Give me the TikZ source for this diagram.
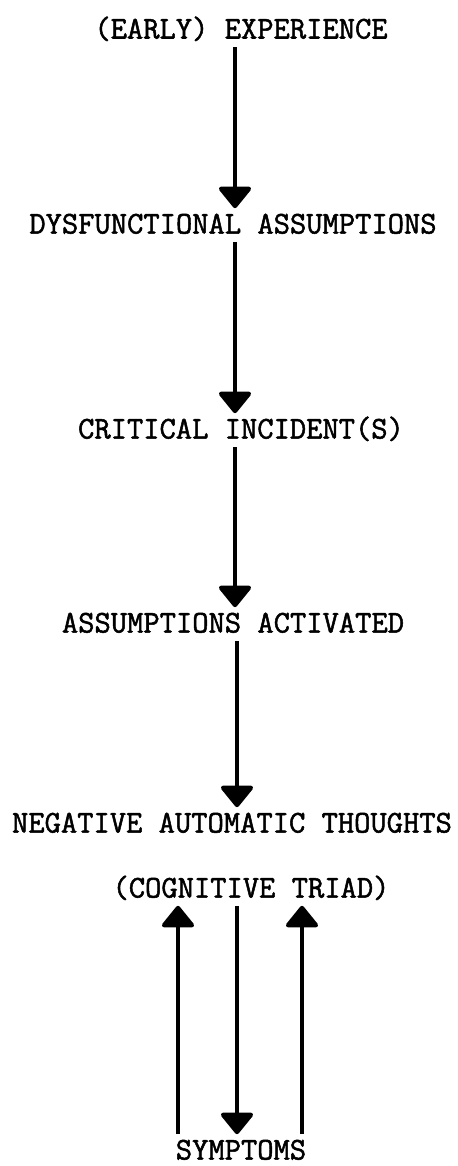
\documentclass[tikz,border=0pt]{standalone}
\usepackage{fontspec}
\newfontfamily\typer{Latin Modern Mono}[FakeBold=1.6]
\usetikzlibrary{arrows.meta}
\tikzset{
  stage/.style={font=\typer\fontsize{18}{20}\selectfont, text height=0.34cm, text depth=0pt, inner xsep=0pt, inner ysep=0.16cm},
  flow/.style={line width=0.09cm, -{Triangle[width=0.72cm,length=0.46cm,round]}}
}
\begin{document}
\begin{tikzpicture}
                \useasboundingbox (0,0) rectangle (9.16,-23.32);
                \node[stage] (exp) at (4.82,-0.60) {(EARLY) EXPERIENCE};
                \node[stage] (dys) at (4.66,-4.50) {DYSFUNCTIONAL ASSUMPTIONS};
                \node[stage] (crit) at (4.82,-8.60) {CRITICAL INCIDENT(S)};
                \node[stage] (act) at (4.66,-12.48) {ASSUMPTIONS ACTIVATED};
                \node[stage] (neg) at (4.64,-16.48) {NEGATIVE AUTOMATIC THOUGHTS};
                \node[stage] (triad) at (5.02,-17.78) {(COGNITIVE TRIAD)};
                \node[stage] (sym) at (4.82,-23.02) {SYMPTOMS};

                \draw[flow] (exp.south -| 4.70,0) to (dys.north -| 4.70,0);
                \draw[flow] (dys.south -| 4.70,0) to (crit.north -| 4.70,0);
                \draw[flow] (crit.south -| 4.70,0) to (act.north -| 4.70,0);
                \draw[flow] (act.south -| 4.74,0) to (neg.north -| 4.74,0);
                \draw[flow] (sym.north -| 3.56,0) to (triad.south -| 3.56,0);
                \draw[flow] (triad.south -| 4.74,0) to (sym.north -| 4.74,0);
                \draw[flow] (sym.north -| 6.04,0) to (triad.south -| 6.04,0);
            \end{tikzpicture}
\end{document}
